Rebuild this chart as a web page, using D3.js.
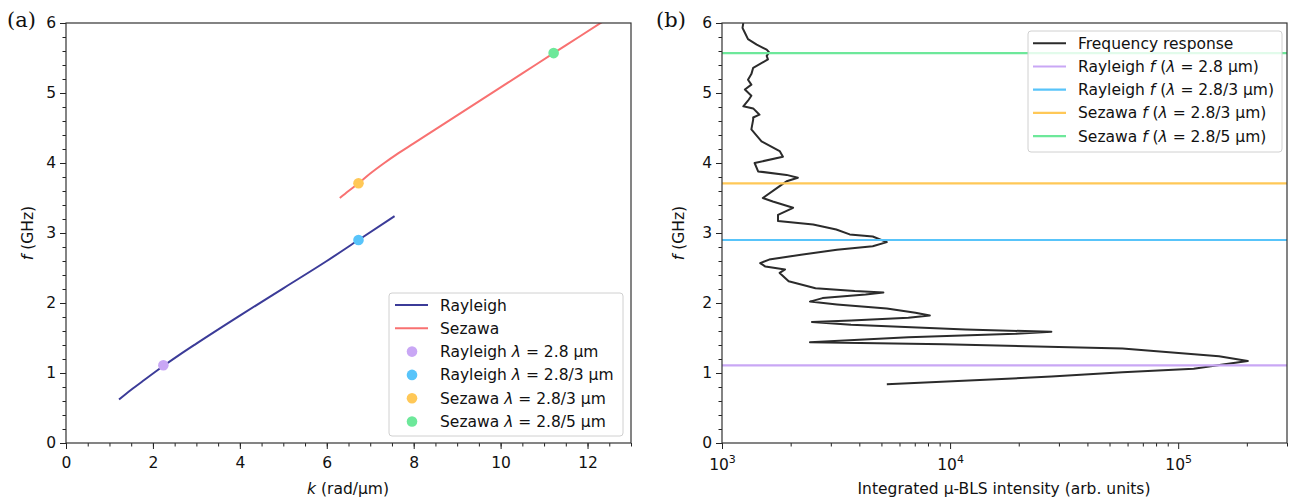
<!DOCTYPE html>
<html>
<head>
<meta charset="utf-8">
<script src="https://cdn.jsdelivr.net/npm/d3@7"></script>
<style>
  body { margin: 0; background: #fff; }
  svg { display: block; }
  text { font-family: "DejaVu Sans", sans-serif; fill: #111; }
</style>
</head>
<body>
<svg id="chart" width="1292" height="502"></svg>
<script>
// dispersion branches, k in rad/um and f in GHz
const rayleighK = [1.22, 1.5, 1.8, 2.24, 2.6, 3.0, 4.0, 5.0, 6.0, 6.73, 7.56];
const rayleighF = [0.62, 0.76, 0.90, 1.10, 1.255, 1.42, 1.82, 2.21, 2.60, 2.90, 3.24];
const sezawaK = [6.3, 6.5, 6.73, 7.0, 7.3, 7.6, 8.0, 8.5, 9.0, 9.5, 10.0, 10.5, 11.22, 11.8, 12.4];
const sezawaF = [3.50, 3.60, 3.71, 3.85, 3.99, 4.12, 4.28, 4.48, 4.68, 4.88, 5.08, 5.28, 5.57, 5.80, 6.04];

// the four excited wavelengths
const modeNames = ["Rayleigh", "Rayleigh", "Sezawa", "Sezawa"];
const lambdaLabels = ["2.8", "2.8/3", "2.8/3", "2.8/5"];
const modeK = [2.24, 6.73, 6.73, 11.22];
const modeF = [1.11, 2.90, 3.71, 5.57];

// measured frequency response (f in GHz, integrated intensity)
const respF = [6.00, 5.93, 5.86, 5.77, 5.69, 5.62, 5.58, 5.53, 5.48, 5.36, 5.27, 5.19, 5.12, 5.05, 4.96, 4.89,
  4.81, 4.78, 4.69, 4.65, 4.62, 4.48, 4.31, 4.17, 4.09, 4.00, 3.88, 3.83, 3.79, 3.74, 3.67, 3.50, 3.45,
  3.36, 3.26, 3.17, 3.12, 3.05, 2.98, 2.95, 2.87, 2.81, 2.76, 2.69, 2.62, 2.57, 2.52, 2.48, 2.43, 2.31,
  2.21, 2.17, 2.15, 2.12, 2.07, 2.02, 1.98, 1.92, 1.86, 1.82, 1.79, 1.75, 1.73, 1.69, 1.62, 1.59, 1.56,
  1.51, 1.44, 1.41, 1.35, 1.24, 1.17, 1.12, 1.06, 1.01, 0.95, 0.90, 0.84];
const respI = [1240, 1230, 1260, 1300, 1420, 1570, 1610, 1570, 1590, 1370, 1345, 1300, 1345, 1260, 1345, 1300,
  1240, 1370, 1460, 1370, 1370, 1345, 1490, 1790, 1850, 1390, 1440, 1920, 2150, 1920, 1790, 1510, 1670,
  2050, 1760, 1760, 2510, 3170, 3630, 4580, 5280, 4580, 3190, 2220, 1610, 1470, 1550, 1890, 1790, 1960,
  2570, 3820, 5100, 4260, 2760, 2430, 3190, 5280, 7050, 8150, 6560, 3680, 2480, 3680, 11700, 27800, 19400,
  6560, 2430, 9400, 57000, 151000, 202000, 157000, 117000, 57000, 27800, 13500, 5280];

const kTicks = [0, 2, 4, 6, 8, 10, 12];
const fTicks = [0, 1, 2, 3, 4, 5, 6];
const intensityTicks = [1e3, 1e4, 1e5];

const rayleighColor = "#3b3b98";
const sezawaColor = "#f87171";
const modeColors = ["#c9a7f5", "#58c4fa", "#ffc857", "#6de89a"];
const respColor = "#2b2b2b";
const fs = "15.5px";

const svg = d3.select("#chart");
const yTop = 23, yBottom = 443;

const xK = d3.scaleLinear().domain([0, 13]).range([66, 631]);
const yF = d3.scaleLinear().domain([0, 6]).range([yBottom, yTop]);
const xI = d3.scaleLog().domain([1e3, 3e5]).range([722, 1287]);

const defs = svg.append("defs");
defs.append("clipPath").attr("id", "clipA").append("rect")
  .attr("x", 66).attr("y", yTop).attr("width", 565).attr("height", yBottom - yTop);
defs.append("clipPath").attr("id", "clipB").append("rect")
  .attr("x", 722).attr("y", yTop).attr("width", 565).attr("height", yBottom - yTop);

function styleAxis(g) {
  g.select(".domain").remove();
  g.selectAll("line").attr("stroke", "#222");
  g.selectAll("text").style("font-size", fs).attr("fill", "#111");
}

// ---------- panel (a) ----------
let gA = svg.append("g");

gA.append("g").attr("transform", `translate(0,${yBottom})`)
  .call(d3.axisBottom(xK).tickValues(d3.range(0, 13.01, 0.5)).tickSize(3.5).tickFormat(""))
  .call(styleAxis);
gA.append("g").attr("transform", `translate(0,${yBottom})`)
  .call(d3.axisBottom(xK).tickValues(kTicks).tickSize(6).tickPadding(8).tickFormat(d3.format("d")))
  .call(styleAxis);
gA.append("g").attr("transform", "translate(66,0)")
  .call(d3.axisLeft(yF).tickValues(d3.range(0, 6.01, 0.2)).tickSize(3.5).tickFormat(""))
  .call(styleAxis);
gA.append("g").attr("transform", "translate(66,0)")
  .call(d3.axisLeft(yF).tickValues(fTicks).tickSize(6).tickPadding(4).tickFormat(d3.format("d")))
  .call(styleAxis);

let lineA = d3.line().x(d => xK(d[0])).y(d => yF(d[1])).curve(d3.curveMonotoneX);
let plotA = gA.append("g").attr("clip-path", "url(#clipA)");
plotA.append("path").datum(d3.zip(rayleighK, rayleighF))
  .attr("d", lineA).attr("fill", "none").attr("stroke", rayleighColor).attr("stroke-width", 2);
plotA.append("path").datum(d3.zip(sezawaK, sezawaF))
  .attr("d", lineA).attr("fill", "none").attr("stroke", sezawaColor).attr("stroke-width", 2);
plotA.selectAll("circle").data(d3.range(modeK.length)).enter().append("circle")
  .attr("cx", i => xK(modeK[i])).attr("cy", i => yF(modeF[i])).attr("r", 5.3)
  .attr("fill", i => modeColors[i]);

gA.append("rect").attr("x", 66).attr("y", yTop).attr("width", 565).attr("height", yBottom - yTop)
  .attr("fill", "none").attr("stroke", "#333").attr("stroke-width", 1.2);

// axis labels
gA.append("text").attr("x", 348).attr("y", 494).attr("text-anchor", "middle").style("font-size", fs)
  .call(t => { t.append("tspan").style("font-style", "italic").text("k"); t.append("tspan").text(" (rad/µm)"); });
gA.append("text").attr("transform", "translate(33,233) rotate(-90)").attr("text-anchor", "middle").style("font-size", fs)
  .call(t => { t.append("tspan").style("font-style", "italic").text("f"); t.append("tspan").text(" (GHz)"); });
gA.append("text").attr("x", 7).attr("y", 27).style("font-family", "'DejaVu Serif', serif").style("font-size", "21px").text("(a)");

// legend (a)
let legA = gA.append("g");
legA.append("rect").attr("x", 389).attr("y", 293).attr("width", 234).attr("height", 143).attr("rx", 3)
  .attr("fill", "#fff").attr("fill-opacity", 0.8).attr("stroke", "#d0d0d0");
let rowY = i => 305 + i * 23.3;
[[rayleighColor, "Rayleigh"], [sezawaColor, "Sezawa"]].forEach((d, i) => {
  legA.append("line").attr("x1", 395).attr("x2", 428).attr("y1", rowY(i)).attr("y2", rowY(i))
    .attr("stroke", d[0]).attr("stroke-width", 2);
  legA.append("text").attr("x", 440).attr("y", rowY(i) + 5.5).style("font-size", fs).text(d[1]);
});
modeNames.forEach((name, i) => {
  let y = rowY(i + 2);
  legA.append("circle").attr("cx", 412).attr("cy", y).attr("r", 5.3).attr("fill", modeColors[i]);
  legA.append("text").attr("x", 440).attr("y", y + 5.5).style("font-size", fs)
    .call(t => {
      t.append("tspan").text(name + " ");
      t.append("tspan").style("font-style", "italic").text("λ");
      t.append("tspan").text(" = " + lambdaLabels[i] + " µm");
    });
});

// ---------- panel (b) ----------
let gB = svg.append("g");

let minorI = [];
[1e3, 1e4, 1e5].forEach(p => { for (let m = 2; m <= 9; m++) if (p * m <= 3e5) minorI.push(p * m); });
gB.append("g").attr("transform", `translate(0,${yBottom})`)
  .call(d3.axisBottom(xI).tickValues(minorI).tickSize(3.5).tickFormat(""))
  .call(styleAxis);
let gxB = gB.append("g").attr("transform", `translate(0,${yBottom})`)
  .call(d3.axisBottom(xI).tickValues(intensityTicks).tickSize(6).tickPadding(4).tickFormat(""))
  .call(styleAxis);
gxB.selectAll(".tick").append("text").attr("y", 27).attr("text-anchor", "middle").style("font-size", fs)
  .attr("fill", "#111")
  .call(t => {
    t.append("tspan").text("10");
    t.append("tspan").attr("dy", -7).style("font-size", "11px").text(d => Math.round(Math.log10(d)));
  });
gB.append("g").attr("transform", "translate(722,0)")
  .call(d3.axisLeft(yF).tickValues(d3.range(0, 6.01, 0.2)).tickSize(3.5).tickFormat(""))
  .call(styleAxis);
gB.append("g").attr("transform", "translate(722,0)")
  .call(d3.axisLeft(yF).tickValues(fTicks).tickSize(6).tickPadding(4).tickFormat(d3.format("d")))
  .call(styleAxis);

let plotB = gB.append("g").attr("clip-path", "url(#clipB)");
let lineB = d3.line().x(d => xI(d[1])).y(d => yF(d[0]));
plotB.append("path").datum(d3.zip(respF, respI))
  .attr("d", lineB).attr("fill", "none").attr("stroke", respColor).attr("stroke-width", 2)
  .attr("stroke-linejoin", "round");
plotB.selectAll("line.mode").data(d3.range(modeF.length)).enter().append("line")
  .attr("class", "mode")
  .attr("x1", xI.range()[0]).attr("x2", xI.range()[1])
  .attr("y1", i => yF(modeF[i])).attr("y2", i => yF(modeF[i]))
  .attr("stroke", i => modeColors[i]).attr("stroke-width", 2.2);

gB.append("rect").attr("x", 722).attr("y", yTop).attr("width", 565).attr("height", yBottom - yTop)
  .attr("fill", "none").attr("stroke", "#333").attr("stroke-width", 1.2);

gB.append("text").attr("x", 1004).attr("y", 494).attr("text-anchor", "middle").style("font-size", fs)
  .text("Integrated µ-BLS intensity (arb. units)");
gB.append("text").attr("transform", "translate(684,233) rotate(-90)").attr("text-anchor", "middle").style("font-size", fs)
  .call(t => { t.append("tspan").style("font-style", "italic").text("f"); t.append("tspan").text(" (GHz)"); });
gB.append("text").attr("x", 656).attr("y", 27).style("font-family", "'DejaVu Serif', serif").style("font-size", "21px").text("(b)");

// legend (b)
let legB = gB.append("g");
legB.append("rect").attr("x", 1028).attr("y", 31).attr("width", 254).attr("height", 121).attr("rx", 3)
  .attr("fill", "#fff").attr("fill-opacity", 0.8).attr("stroke", "#d0d0d0");
let rowB = i => 43.3 + i * 23.2;
legB.append("line").attr("x1", 1033).attr("x2", 1066).attr("y1", rowB(0)).attr("y2", rowB(0))
  .attr("stroke", respColor).attr("stroke-width", 2);
legB.append("text").attr("x", 1078).attr("y", rowB(0) + 5.5).style("font-size", fs).text("Frequency response");
modeNames.forEach((name, i) => {
  let y = rowB(i + 1);
  legB.append("line").attr("x1", 1033).attr("x2", 1066).attr("y1", y).attr("y2", y)
    .attr("stroke", modeColors[i]).attr("stroke-width", 2.2);
  legB.append("text").attr("x", 1078).attr("y", y + 5.5).style("font-size", fs)
    .call(t => {
      t.append("tspan").text(name + " ");
      t.append("tspan").style("font-style", "italic").text("f");
      t.append("tspan").text(" (");
      t.append("tspan").style("font-style", "italic").text("λ");
      t.append("tspan").text(" = " + lambdaLabels[i] + " µm)");
    });
});
</script>
</body>
</html>
